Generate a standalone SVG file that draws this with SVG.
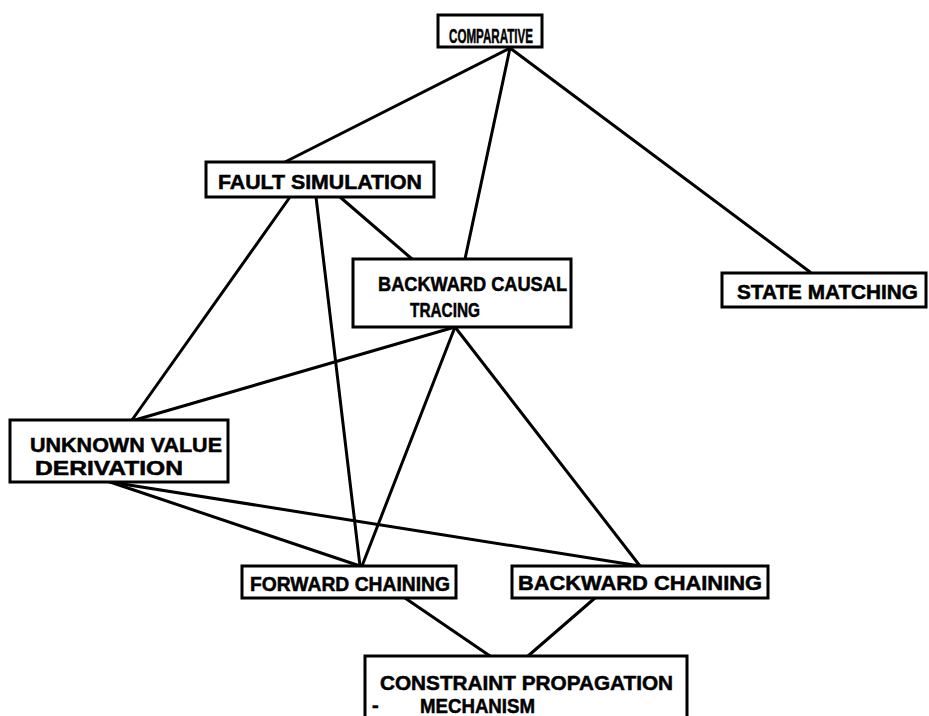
<svg xmlns="http://www.w3.org/2000/svg" width="929" height="716" viewBox="0 0 929 716">
  <style>
    .box { fill: #ffffff; stroke: #000000; stroke-width: 3; }
    .lbl { font-family: "Liberation Sans", "DejaVu Sans", sans-serif; font-weight: bold; font-size: 20px; fill: #000000; stroke: #000000; stroke-width: 0.5; }
    .edge { stroke: #000000; stroke-width: 3; fill: none; stroke-linecap: round; }
  </style>
  <rect width="929" height="716" fill="#ffffff"/>

  <!-- connectors -->
  <g id="connectors">
    <line class="edge" x1="510" y1="48" x2="285" y2="162"/>
    <line class="edge" x1="510" y1="48" x2="465" y2="259"/>
    <line class="edge" x1="510" y1="48" x2="810" y2="272"/>
    <line class="edge" x1="290" y1="197" x2="132" y2="420"/>
    <line class="edge" x1="316" y1="197" x2="360" y2="566"/>
    <line class="edge" x1="340" y1="197" x2="412" y2="259"/>
    <line class="edge" x1="455" y1="327" x2="135" y2="420"/>
    <line class="edge" x1="455" y1="327" x2="362" y2="566"/>
    <line class="edge" x1="455" y1="327" x2="640" y2="566"/>
    <line class="edge" x1="110" y1="482" x2="360" y2="566"/>
    <line class="edge" x1="110" y1="482" x2="640" y2="566"/>
    <line class="edge" x1="405" y1="598" x2="490" y2="656"/>
    <line class="edge" x1="595" y1="598" x2="528" y2="656"/>
  </g>

  <!-- nodes -->
  <g id="comparative">
    <rect class="box" x="438" y="15" width="104" height="32"/>
    <text class="lbl" x="449" y="43" textLength="84" lengthAdjust="spacingAndGlyphs">COMPARATIVE</text>
  </g>
  <g id="fault-simulation">
    <rect class="box" x="206" y="162" width="228" height="35"/>
    <text class="lbl" x="218" y="189" textLength="204" lengthAdjust="spacingAndGlyphs">FAULT SIMULATION</text>
  </g>
  <g id="backward-causal-tracing">
    <rect class="box" x="353" y="259" width="218" height="68"/>
    <text class="lbl" x="378" y="291" textLength="189" lengthAdjust="spacingAndGlyphs">BACKWARD CAUSAL</text>
    <text class="lbl" x="410" y="317" textLength="70" lengthAdjust="spacingAndGlyphs">TRACING</text>
  </g>
  <g id="state-matching">
    <rect class="box" x="722" y="273" width="204" height="34"/>
    <text class="lbl" x="737" y="299" textLength="181" lengthAdjust="spacingAndGlyphs">STATE MATCHING</text>
  </g>
  <g id="unknown-value-derivation">
    <rect class="box" x="10" y="420" width="218" height="62"/>
    <text class="lbl" x="30" y="452" textLength="192" lengthAdjust="spacingAndGlyphs">UNKNOWN VALUE</text>
    <text class="lbl" x="35" y="475" textLength="148" lengthAdjust="spacingAndGlyphs">DERIVATION</text>
  </g>
  <g id="forward-chaining">
    <rect class="box" x="242" y="566" width="214" height="32"/>
    <text class="lbl" x="250" y="591" textLength="200" lengthAdjust="spacingAndGlyphs">FORWARD CHAINING</text>
  </g>
  <g id="backward-chaining">
    <rect class="box" x="512" y="566" width="256" height="32"/>
    <text class="lbl" x="518" y="590" textLength="244" lengthAdjust="spacingAndGlyphs">BACKWARD CHAINING</text>
  </g>
  <g id="constraint-propagation-mechanism">
    <path class="box" d="M365,720 V656 H687 V720"/>
    <text class="lbl" x="380" y="690" textLength="293" lengthAdjust="spacingAndGlyphs">CONSTRAINT PROPAGATION</text>
    <text class="lbl" x="372" y="712">-</text>
    <text class="lbl" x="420" y="713" textLength="115" lengthAdjust="spacingAndGlyphs">MECHANISM</text>
  </g>
</svg>
